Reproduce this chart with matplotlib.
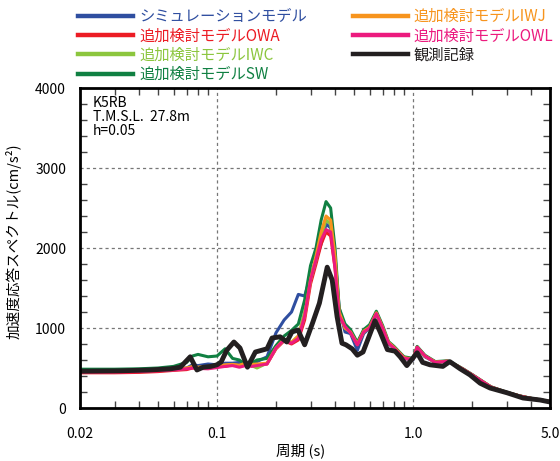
import matplotlib
matplotlib.use("Agg")
import matplotlib.pyplot as plt
from matplotlib.ticker import FixedLocator, NullFormatter, MultipleLocator

plt.rcParams["font.family"] = ["Noto Sans CJK JP", "DejaVu Sans"]

# periods shared by the analysis models (s)
periods = [0.020, 0.030, 0.040, 0.050, 0.060, 0.070, 0.075, 0.080, 0.090, 0.100,
           0.110, 0.120, 0.130, 0.140, 0.150, 0.160, 0.180, 0.200, 0.220, 0.240,
           0.260, 0.280, 0.300, 0.320, 0.340, 0.360, 0.380, 0.400, 0.420, 0.450,
           0.480, 0.520, 0.560, 0.600, 0.650, 0.700, 0.750, 0.800, 0.900, 1.000,
           1.050, 1.150, 1.300, 1.500, 1.600, 1.800, 2.000, 2.500, 3.000, 3.500,
           4.000, 5.000]

sim = [470, 470, 475, 480, 490, 500, 540, 530, 550, 540,
       560, 560, 570, 560, 560, 580, 640, 940, 1100, 1200,
       1420, 1400, 1650, 1850, 2050, 2300, 2250, 1900, 1250, 950,
       930, 720, 930, 1000, 1180, 980, 800, 750, 620, 600,
       750, 640, 570, 580, 550, 480, 410, 260, 195, 150,
       120, 80]
owa = [440, 440, 445, 455, 470, 480, 500, 500, 510, 520,
       520, 540, 530, 560, 530, 540, 550, 740, 840, 800,
       850, 1100, 1550, 1800, 2050, 2200, 2150, 1750, 1200, 1000,
       950, 790, 950, 1010, 1180, 1000, 810, 750, 620, 610,
       760, 650, 570, 585, 555, 485, 415, 262, 195, 150,
       120, 80]
iwc = [455, 455, 460, 470, 480, 495, 510, 505, 515, 520,
       530, 540, 525, 550, 530, 500, 560, 750, 850, 820,
       900, 1200, 1600, 1850, 2150, 2350, 2300, 1850, 1200, 1000,
       950, 800, 950, 1010, 1190, 1000, 810, 760, 630, 610,
       760, 650, 575, 585, 555, 485, 415, 262, 195, 150,
       120, 80]
sw = [485, 485, 490, 500, 520, 570, 650, 670, 640, 650,
      740, 620, 600, 540, 560, 600, 620, 780, 900, 970,
      1050, 1350, 1780, 2000, 2350, 2580, 2500, 2000, 1250, 1050,
      980, 820, 980, 1040, 1210, 1030, 830, 770, 640, 620,
      770, 660, 580, 590, 560, 490, 420, 265, 198, 152,
      122, 82]
iwj = [460, 460, 465, 475, 485, 500, 520, 510, 520, 525,
       540, 545, 535, 560, 545, 550, 560, 750, 860, 820,
       900, 1150, 1600, 1900, 2200, 2400, 2350, 1900, 1200, 1000,
       950, 800, 960, 1010, 1190, 1010, 820, 760, 630, 610,
       760, 650, 575, 585, 555, 485, 415, 262, 195, 150,
       120, 80]
owl = [450, 450, 455, 465, 475, 490, 500, 495, 490, 505,
       520, 530, 510, 530, 520, 530, 550, 750, 850, 810,
       870, 1150, 1600, 1850, 2100, 2230, 2200, 1750, 1150, 1020,
       940, 790, 950, 1000, 1180, 1000, 810, 750, 620, 610,
       760, 650, 570, 585, 555, 485, 415, 262, 195, 150,
       120, 80]

# observed record
obs_periods = [0.020, 0.032, 0.045, 0.058, 0.065, 0.073, 0.079, 0.085, 0.093, 0.100,
               0.105, 0.112, 0.122, 0.131, 0.143, 0.157, 0.180, 0.191, 0.210, 0.227,
               0.241, 0.259, 0.280, 0.307, 0.333, 0.365, 0.387, 0.410, 0.434, 0.455,
               0.489, 0.520, 0.556, 0.640, 0.680, 0.740, 0.810, 0.860, 0.930, 1.050,
               1.120, 1.220, 1.420, 1.540, 1.740, 1.950, 2.200, 2.470, 3.020, 3.640,
               4.450, 5.000]
obs = [460, 465, 475, 490, 510, 640, 475, 510, 520, 540,
       575, 720, 825, 750, 510, 700, 740, 875, 890, 825,
       950, 975, 790, 1060, 1310, 1760, 1600, 1140, 810, 790,
       740, 660, 700, 1090, 950, 730, 710, 640, 530, 690,
       570, 540, 520, 580, 490, 415, 310, 250, 190, 125,
       100, 75]

labels = ["シミュレーションモデル", "追加検討モデルOWA", "追加検討モデルIWC",
          "追加検討モデルSW", "追加検討モデルIWJ", "追加検討モデルOWL", "観測記録"]
colors = ["#2f4ea0", "#ec1c24", "#8cc63e", "#108042", "#f7941d", "#ec1a7e", "#231f20"]

fig = plt.figure(figsize=(5.6, 4.61), dpi=100)
ax = fig.add_axes([80 / 560, 53 / 461, 470 / 560, 320 / 461])

for vals, lab, c in zip([sim, owa, iwc, sw, iwj, owl], labels[:6], colors[:6]):
    ax.plot(periods, vals, color=c, lw=2.2, label=lab, solid_joinstyle="round")
ax.plot(obs_periods, obs, color=colors[6], lw=3.5, label=labels[6], solid_joinstyle="round")

ax.set_xscale("log")
ax.set_xlim(0.02, 5.0)
ax.set_ylim(0, 4000)

ax.xaxis.set_major_locator(FixedLocator([0.02, 0.1, 1.0, 5.0]))
ax.set_xticklabels(["0.02", "0.1", "1.0", "5.0"], fontsize=10)
ax.xaxis.set_minor_locator(FixedLocator([0.03, 0.04, 0.05, 0.06, 0.07, 0.08, 0.09,
                                         0.2, 0.3, 0.4, 0.5, 0.6, 0.7, 0.8, 0.9,
                                         2, 3, 4]))
ax.xaxis.set_minor_formatter(NullFormatter())
ax.yaxis.set_major_locator(MultipleLocator(1000))
ax.yaxis.set_minor_locator(MultipleLocator(200))
for t in ax.get_yticklabels():
    t.set_fontsize(10)

ax.tick_params(which="both", direction="in", top=True, right=True, width=1, color="#444")
ax.tick_params(axis="x", which="major", length=0, pad=14)
ax.tick_params(axis="y", which="major", length=0, pad=10)
ax.tick_params(which="minor", length=5)
for s in ax.spines.values():
    s.set_linewidth(2)

for v in [1000, 2000, 3000]:
    ax.axhline(v, color="#777", lw=0.9, ls=(0, (2.5, 2.5)), zorder=0)
for v in [0.1, 1.0]:
    ax.axvline(v, color="#777", lw=0.9, ls=(0, (2.5, 2.5)), zorder=0)

ax.text(0.027, 0.975, "K5RB\nT.M.S.L.  27.8m\nh=0.05", transform=ax.transAxes,
        va="top", ha="left", fontsize=10, linespacing=1.0)

ax.set_xlabel("周期 (s)", fontsize=10.5)
ax.xaxis.set_label_coords(0.47, -0.11)
ax.set_ylabel("加速度応答スペクトル(cm/s²)", fontsize=10.5)
ax.yaxis.set_label_coords(-0.125, 0.52)

fig.legend(loc="upper left", bbox_to_anchor=(78 / 560, 1 - 8 / 461), ncol=2,
           frameon=False, fontsize=11, handlelength=3.6, handletextpad=0.4,
           columnspacing=3.0, labelspacing=0.15, borderpad=0, borderaxespad=0,
           labelcolor="linecolor")
for line in fig.legends[0].get_lines():
    line.set_linewidth(3.2)

fig.savefig("out.png", dpi=100)
